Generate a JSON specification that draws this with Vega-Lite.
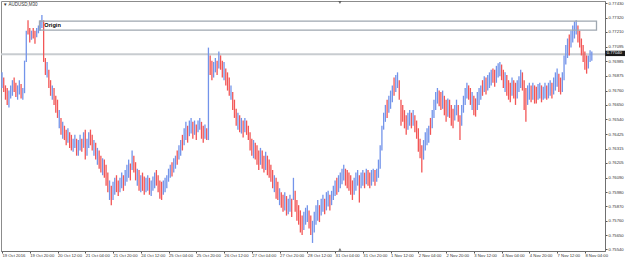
{
 "$schema": "https://vega.github.io/schema/vega-lite/v6.json",
 "width": 604, "height": 250,
 "autosize": {"type": "none"},
 "padding": {"left": 1, "top": 1, "right": 20, "bottom": 9},
 "background": "white",
 "config": {"font": "Liberation Sans", "view": {"stroke": "#8c8c8c", "strokeWidth": 1}},
 "datasets": {
  "bars": [
{"i":0,"h":0.7690,"l":0.7678,"d":1},{"i":1,"h":0.7686,"l":0.7675,"d":0},{"i":2,"h":0.7680,"l":0.7669,"d":0},{"i":3,"h":0.7678,"l":0.7665,"d":0},{"i":4,"h":0.7676,"l":0.7663,"d":1},{"i":5,"h":0.7680,"l":0.7670,"d":1},{"i":6,"h":0.7684,"l":0.7672,"d":1},{"i":7,"h":0.7686,"l":0.7675,"d":0},{"i":8,"h":0.7682,"l":0.7671,"d":0},{"i":9,"h":0.7680,"l":0.7669,"d":1},
{"i":10,"h":0.7684,"l":0.7673,"d":1},{"i":11,"h":0.7681,"l":0.7670,"d":0},{"i":12,"h":0.7678,"l":0.7669,"d":1},{"i":13,"h":0.7699,"l":0.7674,"d":1},{"i":14,"h":0.7722,"l":0.7698,"d":1},{"i":15,"h":0.7730,"l":0.7719,"d":0},{"i":16,"h":0.7724,"l":0.7713,"d":0},{"i":17,"h":0.7722,"l":0.7715,"d":1},{"i":18,"h":0.7724,"l":0.7716,"d":0},{"i":19,"h":0.7722,"l":0.7712,"d":0},
{"i":20,"h":0.7724,"l":0.7717,"d":1},{"i":21,"h":0.7726,"l":0.7720,"d":1},{"i":22,"h":0.7730,"l":0.7722,"d":1},{"i":23,"h":0.7734,"l":0.7724,"d":1},{"i":24,"h":0.7730,"l":0.7698,"d":0},{"i":25,"h":0.7701,"l":0.7688,"d":0},{"i":26,"h":0.7698,"l":0.7686,"d":1},{"i":27,"h":0.7692,"l":0.7678,"d":0},{"i":28,"h":0.7684,"l":0.7672,"d":0},{"i":29,"h":0.7680,"l":0.7669,"d":1},
{"i":30,"h":0.7678,"l":0.7665,"d":0},{"i":31,"h":0.7672,"l":0.7659,"d":0},{"i":32,"h":0.7669,"l":0.7655,"d":0},{"i":33,"h":0.7661,"l":0.7647,"d":1},{"i":34,"h":0.7655,"l":0.7642,"d":0},{"i":35,"h":0.7652,"l":0.7639,"d":1},{"i":36,"h":0.7649,"l":0.7638,"d":0},{"i":37,"h":0.7646,"l":0.7634,"d":0},{"i":38,"h":0.7647,"l":0.7636,"d":1},{"i":39,"h":0.7644,"l":0.7632,"d":0},
{"i":40,"h":0.7642,"l":0.7630,"d":0},{"i":41,"h":0.7639,"l":0.7629,"d":1},{"i":42,"h":0.7642,"l":0.7632,"d":1},{"i":43,"h":0.7639,"l":0.7626,"d":0},{"i":44,"h":0.7638,"l":0.7626,"d":1},{"i":45,"h":0.7642,"l":0.7630,"d":1},{"i":46,"h":0.7639,"l":0.7629,"d":0},{"i":47,"h":0.7644,"l":0.7632,"d":1},{"i":48,"h":0.7646,"l":0.7623,"d":0},{"i":49,"h":0.7639,"l":0.7626,"d":1},
{"i":50,"h":0.7644,"l":0.7632,"d":1},{"i":51,"h":0.7646,"l":0.7634,"d":0},{"i":52,"h":0.7642,"l":0.7630,"d":0},{"i":53,"h":0.7638,"l":0.7626,"d":1},{"i":54,"h":0.7636,"l":0.7623,"d":0},{"i":55,"h":0.7632,"l":0.7619,"d":1},{"i":56,"h":0.7630,"l":0.7616,"d":0},{"i":57,"h":0.7626,"l":0.7613,"d":0},{"i":58,"h":0.7624,"l":0.7611,"d":1},{"i":59,"h":0.7623,"l":0.7609,"d":0},
{"i":60,"h":0.7619,"l":0.7603,"d":0},{"i":61,"h":0.7613,"l":0.7598,"d":0},{"i":62,"h":0.7607,"l":0.7592,"d":1},{"i":63,"h":0.7603,"l":0.7588,"d":0},{"i":64,"h":0.7606,"l":0.7592,"d":1},{"i":65,"h":0.7609,"l":0.7596,"d":1},{"i":66,"h":0.7611,"l":0.7598,"d":0},{"i":67,"h":0.7607,"l":0.7595,"d":0},{"i":68,"h":0.7609,"l":0.7598,"d":1},{"i":69,"h":0.7613,"l":0.7601,"d":1},
{"i":70,"h":0.7611,"l":0.7599,"d":0},{"i":71,"h":0.7615,"l":0.7603,"d":1},{"i":72,"h":0.7619,"l":0.7606,"d":1},{"i":73,"h":0.7623,"l":0.7609,"d":1},{"i":74,"h":0.7620,"l":0.7607,"d":0},{"i":75,"h":0.7630,"l":0.7615,"d":1},{"i":76,"h":0.7626,"l":0.7613,"d":0},{"i":77,"h":0.7621,"l":0.7607,"d":0},{"i":78,"h":0.7616,"l":0.7603,"d":1},{"i":79,"h":0.7615,"l":0.7599,"d":0},
{"i":80,"h":0.7611,"l":0.7598,"d":1},{"i":81,"h":0.7613,"l":0.7599,"d":0},{"i":82,"h":0.7610,"l":0.7596,"d":0},{"i":83,"h":0.7609,"l":0.7598,"d":1},{"i":84,"h":0.7611,"l":0.7599,"d":1},{"i":85,"h":0.7609,"l":0.7596,"d":0},{"i":86,"h":0.7607,"l":0.7595,"d":1},{"i":87,"h":0.7610,"l":0.7599,"d":1},{"i":88,"h":0.7613,"l":0.7601,"d":1},{"i":89,"h":0.7615,"l":0.7603,"d":0},
{"i":90,"h":0.7611,"l":0.7598,"d":0},{"i":91,"h":0.7607,"l":0.7593,"d":0},{"i":92,"h":0.7606,"l":0.7592,"d":0},{"i":93,"h":0.7607,"l":0.7596,"d":1},{"i":94,"h":0.7609,"l":0.7598,"d":1},{"i":95,"h":0.7611,"l":0.7601,"d":1},{"i":96,"h":0.7616,"l":0.7606,"d":1},{"i":97,"h":0.7619,"l":0.7609,"d":1},{"i":98,"h":0.7621,"l":0.7610,"d":0},{"i":99,"h":0.7624,"l":0.7613,"d":1},
{"i":100,"h":0.7626,"l":0.7616,"d":1},{"i":101,"h":0.7630,"l":0.7619,"d":0},{"i":102,"h":0.7634,"l":0.7623,"d":1},{"i":103,"h":0.7638,"l":0.7626,"d":1},{"i":104,"h":0.7642,"l":0.7630,"d":0},{"i":105,"h":0.7647,"l":0.7634,"d":1},{"i":106,"h":0.7652,"l":0.7638,"d":1},{"i":107,"h":0.7649,"l":0.7636,"d":0},{"i":108,"h":0.7653,"l":0.7641,"d":1},{"i":109,"h":0.7655,"l":0.7643,"d":1},
{"i":110,"h":0.7652,"l":0.7639,"d":0},{"i":111,"h":0.7653,"l":0.7642,"d":1},{"i":112,"h":0.7650,"l":0.7638,"d":0},{"i":113,"h":0.7653,"l":0.7644,"d":1},{"i":114,"h":0.7655,"l":0.7646,"d":1},{"i":115,"h":0.7652,"l":0.7639,"d":0},{"i":116,"h":0.7649,"l":0.7636,"d":0},{"i":117,"h":0.7650,"l":0.7639,"d":1},{"i":118,"h":0.7647,"l":0.7638,"d":0},{"i":119,"h":0.7709,"l":0.7638,"d":1},
{"i":120,"h":0.7703,"l":0.7688,"d":0},{"i":121,"h":0.7699,"l":0.7684,"d":0},{"i":122,"h":0.7698,"l":0.7686,"d":1},{"i":123,"h":0.7701,"l":0.7690,"d":1},{"i":124,"h":0.7699,"l":0.7688,"d":0},{"i":125,"h":0.7706,"l":0.7693,"d":1},{"i":126,"h":0.7703,"l":0.7692,"d":0},{"i":127,"h":0.7699,"l":0.7686,"d":0},{"i":128,"h":0.7698,"l":0.7684,"d":1},{"i":129,"h":0.7693,"l":0.7680,"d":0},
{"i":130,"h":0.7690,"l":0.7676,"d":0},{"i":131,"h":0.7686,"l":0.7672,"d":0},{"i":132,"h":0.7680,"l":0.7669,"d":1},{"i":133,"h":0.7675,"l":0.7661,"d":0},{"i":134,"h":0.7669,"l":0.7655,"d":0},{"i":135,"h":0.7662,"l":0.7649,"d":0},{"i":136,"h":0.7659,"l":0.7646,"d":1},{"i":137,"h":0.7657,"l":0.7644,"d":0},{"i":138,"h":0.7655,"l":0.7643,"d":1},{"i":139,"h":0.7653,"l":0.7640,"d":0},
{"i":140,"h":0.7655,"l":0.7644,"d":1},{"i":141,"h":0.7653,"l":0.7642,"d":0},{"i":142,"h":0.7649,"l":0.7638,"d":0},{"i":143,"h":0.7644,"l":0.7630,"d":0},{"i":144,"h":0.7639,"l":0.7626,"d":0},{"i":145,"h":0.7638,"l":0.7624,"d":1},{"i":146,"h":0.7636,"l":0.7623,"d":0},{"i":147,"h":0.7634,"l":0.7619,"d":0},{"i":148,"h":0.7630,"l":0.7615,"d":0},{"i":149,"h":0.7632,"l":0.7619,"d":1},
{"i":150,"h":0.7630,"l":0.7616,"d":0},{"i":151,"h":0.7626,"l":0.7613,"d":0},{"i":152,"h":0.7629,"l":0.7615,"d":1},{"i":153,"h":0.7626,"l":0.7611,"d":0},{"i":154,"h":0.7623,"l":0.7609,"d":0},{"i":155,"h":0.7619,"l":0.7606,"d":0},{"i":156,"h":0.7615,"l":0.7601,"d":0},{"i":157,"h":0.7611,"l":0.7598,"d":1},{"i":158,"h":0.7609,"l":0.7593,"d":0},{"i":159,"h":0.7606,"l":0.7592,"d":0},
{"i":160,"h":0.7601,"l":0.7588,"d":1},{"i":161,"h":0.7598,"l":0.7586,"d":0},{"i":162,"h":0.7596,"l":0.7583,"d":0},{"i":163,"h":0.7598,"l":0.7584,"d":1},{"i":164,"h":0.7595,"l":0.7580,"d":0},{"i":165,"h":0.7593,"l":0.7581,"d":1},{"i":166,"h":0.7596,"l":0.7583,"d":1},{"i":167,"h":0.7593,"l":0.7579,"d":0},{"i":168,"h":0.7609,"l":0.7592,"d":1},{"i":169,"h":0.7599,"l":0.7583,"d":0},
{"i":170,"h":0.7592,"l":0.7576,"d":0},{"i":171,"h":0.7588,"l":0.7573,"d":0},{"i":172,"h":0.7584,"l":0.7567,"d":0},{"i":173,"h":0.7580,"l":0.7565,"d":0},{"i":174,"h":0.7583,"l":0.7569,"d":1},{"i":175,"h":0.7586,"l":0.7573,"d":1},{"i":176,"h":0.7588,"l":0.7575,"d":1},{"i":177,"h":0.7584,"l":0.7570,"d":0},{"i":178,"h":0.7580,"l":0.7565,"d":0},{"i":179,"h":0.7576,"l":0.7559,"d":1},
{"i":180,"h":0.7583,"l":0.7567,"d":1},{"i":181,"h":0.7588,"l":0.7573,"d":1},{"i":182,"h":0.7592,"l":0.7576,"d":1},{"i":183,"h":0.7588,"l":0.7575,"d":0},{"i":184,"h":0.7593,"l":0.7580,"d":1},{"i":185,"h":0.7596,"l":0.7583,"d":1},{"i":186,"h":0.7593,"l":0.7581,"d":0},{"i":187,"h":0.7598,"l":0.7584,"d":1},{"i":188,"h":0.7599,"l":0.7587,"d":1},{"i":189,"h":0.7596,"l":0.7584,"d":0},
{"i":190,"h":0.7599,"l":0.7588,"d":1},{"i":191,"h":0.7603,"l":0.7592,"d":1},{"i":192,"h":0.7607,"l":0.7595,"d":1},{"i":193,"h":0.7609,"l":0.7596,"d":0},{"i":194,"h":0.7611,"l":0.7598,"d":1},{"i":195,"h":0.7613,"l":0.7601,"d":1},{"i":196,"h":0.7616,"l":0.7604,"d":1},{"i":197,"h":0.7619,"l":0.7607,"d":1},{"i":198,"h":0.7616,"l":0.7603,"d":0},{"i":199,"h":0.7615,"l":0.7601,"d":0},
{"i":200,"h":0.7613,"l":0.7599,"d":0},{"i":201,"h":0.7611,"l":0.7596,"d":0},{"i":202,"h":0.7607,"l":0.7592,"d":0},{"i":203,"h":0.7609,"l":0.7596,"d":1},{"i":204,"h":0.7613,"l":0.7599,"d":1},{"i":205,"h":0.7615,"l":0.7603,"d":1},{"i":206,"h":0.7611,"l":0.7590,"d":0},{"i":207,"h":0.7613,"l":0.7601,"d":1},{"i":208,"h":0.7615,"l":0.7603,"d":1},{"i":209,"h":0.7613,"l":0.7601,"d":0},
{"i":210,"h":0.7616,"l":0.7604,"d":1},{"i":211,"h":0.7615,"l":0.7603,"d":0},{"i":212,"h":0.7613,"l":0.7601,"d":0},{"i":213,"h":0.7615,"l":0.7603,"d":1},{"i":214,"h":0.7616,"l":0.7606,"d":1},{"i":215,"h":0.7615,"l":0.7603,"d":0},{"i":216,"h":0.7616,"l":0.7606,"d":1},{"i":217,"h":0.7623,"l":0.7609,"d":1},{"i":218,"h":0.7634,"l":0.7616,"d":1},{"i":219,"h":0.7649,"l":0.7630,"d":1},
{"i":220,"h":0.7659,"l":0.7646,"d":1},{"i":221,"h":0.7665,"l":0.7652,"d":1},{"i":222,"h":0.7669,"l":0.7655,"d":0},{"i":223,"h":0.7672,"l":0.7659,"d":1},{"i":224,"h":0.7676,"l":0.7662,"d":1},{"i":225,"h":0.7680,"l":0.7667,"d":1},{"i":226,"h":0.7686,"l":0.7672,"d":0},{"i":227,"h":0.7688,"l":0.7675,"d":1},{"i":228,"h":0.7690,"l":0.7678,"d":1},{"i":229,"h":0.7684,"l":0.7669,"d":0},
{"i":230,"h":0.7669,"l":0.7649,"d":0},{"i":231,"h":0.7665,"l":0.7652,"d":0},{"i":232,"h":0.7661,"l":0.7647,"d":0},{"i":233,"h":0.7657,"l":0.7642,"d":0},{"i":234,"h":0.7659,"l":0.7646,"d":1},{"i":235,"h":0.7661,"l":0.7649,"d":1},{"i":236,"h":0.7659,"l":0.7647,"d":0},{"i":237,"h":0.7661,"l":0.7649,"d":1},{"i":238,"h":0.7657,"l":0.7644,"d":0},{"i":239,"h":0.7653,"l":0.7639,"d":0},
{"i":240,"h":0.7647,"l":0.7629,"d":0},{"i":241,"h":0.7639,"l":0.7624,"d":0},{"i":242,"h":0.7634,"l":0.7613,"d":0},{"i":243,"h":0.7638,"l":0.7623,"d":1},{"i":244,"h":0.7644,"l":0.7630,"d":1},{"i":245,"h":0.7647,"l":0.7634,"d":1},{"i":246,"h":0.7649,"l":0.7636,"d":1},{"i":247,"h":0.7655,"l":0.7642,"d":0},{"i":248,"h":0.7661,"l":0.7647,"d":1},{"i":249,"h":0.7669,"l":0.7655,"d":1},
{"i":250,"h":0.7675,"l":0.7661,"d":1},{"i":251,"h":0.7678,"l":0.7666,"d":1},{"i":252,"h":0.7676,"l":0.7664,"d":0},{"i":253,"h":0.7675,"l":0.7661,"d":0},{"i":254,"h":0.7676,"l":0.7662,"d":1},{"i":255,"h":0.7672,"l":0.7657,"d":0},{"i":256,"h":0.7669,"l":0.7652,"d":0},{"i":257,"h":0.7670,"l":0.7656,"d":1},{"i":258,"h":0.7669,"l":0.7655,"d":0},{"i":259,"h":0.7665,"l":0.7649,"d":0},
{"i":260,"h":0.7662,"l":0.7647,"d":0},{"i":261,"h":0.7665,"l":0.7653,"d":1},{"i":262,"h":0.7669,"l":0.7657,"d":1},{"i":263,"h":0.7665,"l":0.7652,"d":0},{"i":264,"h":0.7657,"l":0.7638,"d":0},{"i":265,"h":0.7665,"l":0.7649,"d":1},{"i":266,"h":0.7672,"l":0.7659,"d":1},{"i":267,"h":0.7678,"l":0.7665,"d":1},{"i":268,"h":0.7682,"l":0.7670,"d":1},{"i":269,"h":0.7680,"l":0.7669,"d":0},
{"i":270,"h":0.7678,"l":0.7665,"d":0},{"i":271,"h":0.7675,"l":0.7661,"d":1},{"i":272,"h":0.7672,"l":0.7657,"d":0},{"i":273,"h":0.7670,"l":0.7656,"d":0},{"i":274,"h":0.7675,"l":0.7661,"d":1},{"i":275,"h":0.7678,"l":0.7665,"d":1},{"i":276,"h":0.7680,"l":0.7669,"d":1},{"i":277,"h":0.7684,"l":0.7672,"d":0},{"i":278,"h":0.7687,"l":0.7675,"d":1},{"i":279,"h":0.7686,"l":0.7673,"d":0},
{"i":280,"h":0.7688,"l":0.7676,"d":1},{"i":281,"h":0.7690,"l":0.7678,"d":1},{"i":282,"h":0.7692,"l":0.7680,"d":1},{"i":283,"h":0.7693,"l":0.7682,"d":0},{"i":284,"h":0.7692,"l":0.7679,"d":0},{"i":285,"h":0.7695,"l":0.7682,"d":1},{"i":286,"h":0.7697,"l":0.7686,"d":1},{"i":287,"h":0.7698,"l":0.7687,"d":1},{"i":288,"h":0.7696,"l":0.7684,"d":0},{"i":289,"h":0.7692,"l":0.7678,"d":0},
{"i":290,"h":0.7690,"l":0.7675,"d":1},{"i":291,"h":0.7688,"l":0.7672,"d":0},{"i":292,"h":0.7684,"l":0.7669,"d":0},{"i":293,"h":0.7682,"l":0.7667,"d":0},{"i":294,"h":0.7686,"l":0.7672,"d":1},{"i":295,"h":0.7684,"l":0.7670,"d":0},{"i":296,"h":0.7682,"l":0.7665,"d":0},{"i":297,"h":0.7684,"l":0.7670,"d":1},{"i":298,"h":0.7687,"l":0.7675,"d":1},{"i":299,"h":0.7692,"l":0.7678,"d":1},
{"i":300,"h":0.7690,"l":0.7676,"d":0},{"i":301,"h":0.7684,"l":0.7661,"d":0},{"i":302,"h":0.7678,"l":0.7652,"d":0},{"i":303,"h":0.7680,"l":0.7665,"d":1},{"i":304,"h":0.7682,"l":0.7669,"d":1},{"i":305,"h":0.7680,"l":0.7667,"d":0},{"i":306,"h":0.7682,"l":0.7669,"d":1},{"i":307,"h":0.7680,"l":0.7666,"d":0},{"i":308,"h":0.7679,"l":0.7666,"d":0},{"i":309,"h":0.7681,"l":0.7669,"d":1},
{"i":310,"h":0.7682,"l":0.7670,"d":1},{"i":311,"h":0.7680,"l":0.7667,"d":0},{"i":312,"h":0.7679,"l":0.7669,"d":1},{"i":313,"h":0.7682,"l":0.7670,"d":1},{"i":314,"h":0.7680,"l":0.7669,"d":0},{"i":315,"h":0.7682,"l":0.7670,"d":1},{"i":316,"h":0.7684,"l":0.7672,"d":1},{"i":317,"h":0.7682,"l":0.7670,"d":0},{"i":318,"h":0.7686,"l":0.7673,"d":1},{"i":319,"h":0.7690,"l":0.7676,"d":1},
{"i":320,"h":0.7693,"l":0.7679,"d":1},{"i":321,"h":0.7689,"l":0.7675,"d":0},{"i":322,"h":0.7686,"l":0.7673,"d":0},{"i":323,"h":0.7690,"l":0.7675,"d":1},{"i":324,"h":0.7703,"l":0.7684,"d":1},{"i":325,"h":0.7711,"l":0.7696,"d":1},{"i":326,"h":0.7716,"l":0.7701,"d":1},{"i":327,"h":0.7719,"l":0.7703,"d":0},{"i":328,"h":0.7722,"l":0.7709,"d":1},{"i":329,"h":0.7726,"l":0.7713,"d":1},
{"i":330,"h":0.7729,"l":0.7716,"d":1},{"i":331,"h":0.7730,"l":0.7719,"d":1},{"i":332,"h":0.7726,"l":0.7713,"d":0},{"i":333,"h":0.7722,"l":0.7709,"d":0},{"i":334,"h":0.7716,"l":0.7703,"d":0},{"i":335,"h":0.7711,"l":0.7698,"d":0},{"i":336,"h":0.7706,"l":0.7692,"d":0},{"i":337,"h":0.7703,"l":0.7689,"d":0},{"i":338,"h":0.7703,"l":0.7693,"d":1},{"i":339,"h":0.7707,"l":0.7698,"d":1},
{"i":340,"h":0.7706,"l":0.7699,"d":1}
  ]
 },
 "encoding": {
  "x": {"field": "i", "type": "quantitative", "title": null,
   "scale": {"domain": [-0.576, 347.6], "nice": false, "zero": false},
   "axis": {"values": [0,16,32,48,64,80,96,112,128,144,160,176,192,208,224,240,256,272,288,304,320,336],
    "labelExpr": "['19 Oct 2016','19 Oct 20:00','20 Oct 12:00','21 Oct 04:00','21 Oct 20:00','24 Oct 12:00','25 Oct 04:00','25 Oct 20:00','26 Oct 12:00','27 Oct 04:00','27 Oct 20:00','28 Oct 12:00','31 Oct 04:00','31 Oct 20:00','1 Nov 12:00','2 Nov 04:00','2 Nov 20:00','3 Nov 12:00','4 Nov 04:00','4 Nov 20:00','7 Nov 12:00','8 Nov 04:00'][round(datum.value/16)]",
    "labelAlign": "left", "labelBaseline": "top", "labelFontSize": 4.2, "labelColor": "#333333", "labelPadding": 0.5, "labelDx": 1,
    "tickSize": 2, "tickColor": "#555555", "domainColor": "#707070", "grid": false, "title": null,
    "labelOverlap": false, "labelFlush": false, "labelBound": false}},
  "y": {"field": "h", "type": "quantitative", "title": null,
   "scale": {"domain": [0.75528, 0.77448], "nice": false, "zero": false},
   "axis": {"orient": "right", "values": [0.7743,0.7732,0.7721,0.77095,0.76985,0.76875,0.7676,0.7665,0.7654,0.76425,0.76315,0.76205,0.7609,0.7598,0.7587,0.7576,0.7565,0.7554],
    "format": ".5f", "labelAlign": "left", "labelBaseline": "middle", "labelFontSize": 4.2, "labelColor": "#333333", "labelPadding": 1,
    "tickSize": 2, "tickColor": "#555555", "domainColor": "#707070", "grid": false, "title": null,
    "labelOverlap": false, "labelFlush": false, "labelBound": false}}
 },
 "layer": [
  {"data": {"values": [{"i": -0.576, "i2": 347.6, "h": 0.7704}]},
   "mark": {"type": "rule", "stroke": "#c8ccd0", "strokeWidth": 2},
   "encoding": {"x2": {"field": "i2"}}},
  {"data": {"name": "bars"},
   "mark": {"type": "rule", "strokeWidth": 1.3},
   "encoding": {"y2": {"field": "l"},
    "color": {"condition": {"test": "datum.d == 1", "value": "#7394ea"}, "value": "#f25656"}}},
  {"data": {"values": [{"i": 21.6, "i2": 342.7, "h": 0.77294, "l": 0.77225}]},
   "mark": {"type": "rect", "fillOpacity": 0, "stroke": "#9ea7b0", "strokeWidth": 1.3},
   "encoding": {"x2": {"field": "i2"}, "y2": {"field": "l"}}},
  {"data": {"values": [{"i": 24.4, "h": 0.77261, "t": "Origin"}]},
   "mark": {"type": "text", "align": "left", "baseline": "middle", "fontSize": 5.6, "fontWeight": "bold", "color": "#000000"},
   "encoding": {"text": {"field": "t"}}},
  {"data": {"values": [{"i": 0.6, "h": 0.77417, "t": "▼ AUDUSD,M30"}]},
   "mark": {"type": "text", "align": "left", "baseline": "middle", "fontSize": 4.5, "color": "#333333"},
   "encoding": {"text": {"field": "t"}}},
  {"data": {"values": [{"i": 347.7, "i2": 360, "h": 0.77066, "l": 0.77025}]},
   "mark": {"type": "rect", "color": "#1a1a1a", "clip": false},
   "encoding": {"x2": {"field": "i2"}, "y2": {"field": "l"}}},
  {"data": {"values": [{"i": 348.6, "h": 0.77045, "t": "0.77040"}]},
   "mark": {"type": "text", "align": "left", "baseline": "middle", "fontSize": 4.2, "color": "#ffffff", "clip": false},
   "encoding": {"text": {"field": "t"}}},
  {"data": {"values": [{"i": 194.8, "h": 0.77435}]},
   "mark": {"type": "point", "shape": "triangle-down", "filled": true, "size": 10, "color": "#333333"}},
  {"data": {"values": [{"i": 194.8, "h": 0.7554}]},
   "mark": {"type": "point", "shape": "triangle-up", "filled": true, "size": 10, "color": "#333333"}}
 ]
}
